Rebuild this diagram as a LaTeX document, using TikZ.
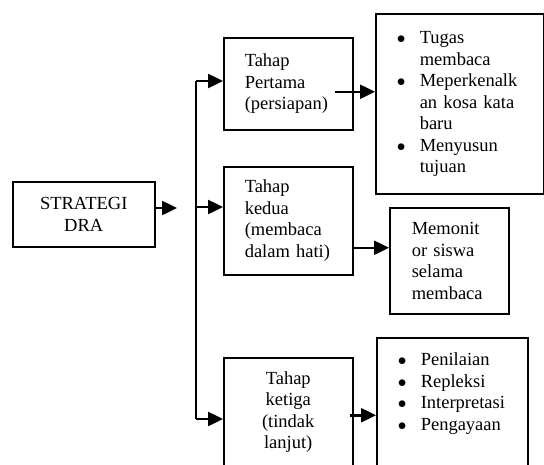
\documentclass[tikz,border=0pt]{standalone}
\usepackage{fontspec}
\setmainfont{Liberation Serif}
\usetikzlibrary{arrows.meta,positioning}
\newcommand{\titik}{$\bullet$}

\begin{document}
\begin{tikzpicture}[
  x=1pt, y=-1pt,
  font=\fontsize{18.5pt}{21.5pt}\selectfont,
  >={Triangle[length=15pt,width=14pt]},
  kotak/.style={draw, line width=1.5pt, anchor=north west, inner ysep=0pt},
  panah/.style={->, line width=2.5pt},
]
\clip (0,0) rectangle (544,464);

\node[kotak, minimum width=142pt, minimum height=65pt, align=center] (strategi) at (12,181) {STRATEGI\\DRA};

\node[kotak, minimum width=129pt, minimum height=92pt, inner xsep=21pt, text width=87pt, align=left] (pertama) at (223,37) {Tahap\\Pertama\\(persiapan)};
\node[kotak, minimum width=129pt, minimum height=108pt, inner xsep=21pt, text width=87pt, align=left] (kedua) at (223,166) {Tahap\\kedua\\(membaca\\dalam hati)};
\node[kotak, minimum width=129pt, minimum height=109pt, align=center] (ketiga) at (223,357) {Tahap\\ketiga\\(tindak\\lanjut)};

\node[kotak, minimum width=168pt, minimum height=180pt, inner xsep=21pt, text width=126pt, align=left] (tugas) at (375,13) {%
  \begin{tabular}{@{}p{23pt}@{}l@{}}
  \titik & Tugas\\
         & membaca\\
  \titik & Meperkenalk\\
         & an kosa kata\\
         & baru\\
  \titik & Menyusun\\
         & tujuan
  \end{tabular}};
\node[kotak, minimum width=119pt, minimum height=106pt, inner xsep=22pt, text width=75pt, align=left] (monitor) at (389,207) {Memonit\\or siswa\\selama\\membaca};
\node[kotak, minimum width=151pt, minimum height=133pt, inner xsep=21pt, text width=109pt, align=left] (nilai) at (376,337) {%
  \begin{tabular}{@{}p{23pt}@{}l@{}}
  \titik & Penilaian\\
  \titik & Repleksi\\
  \titik & Interpretasi\\
  \titik & Pengayaan\\
         & \strut
  \end{tabular}};

\coordinate (ujung) at (177,208);
\coordinate (atas) at (196,81);
\coordinate (tengah) at (196,207);
\coordinate (bawah) at (196,419);
\coordinate (p1) at ([shift={(-19,8)}]pertama.east);
\coordinate (p2) at ([yshift=-27pt]kedua.east);
\coordinate (p3) at ([shift={(-4,3)}]ketiga.east);

\draw[line width=2pt] (atas) -- (bawah);
\draw[panah] (strategi.east |- ujung) -- (ujung);
\draw[panah] (atas) -- (pertama.west |- atas);
\draw[panah] (tengah) -- (kedua.west |- tengah);
\draw[panah] (bawah) -- (ketiga.west |- bawah);
\draw[panah] (p1) -- (tugas.west |- p1);
\draw[panah] (p2) -- (monitor.west |- p2);
\draw[panah] (p3) -- (nilai.west |- p3);

\end{tikzpicture}
\end{document}
